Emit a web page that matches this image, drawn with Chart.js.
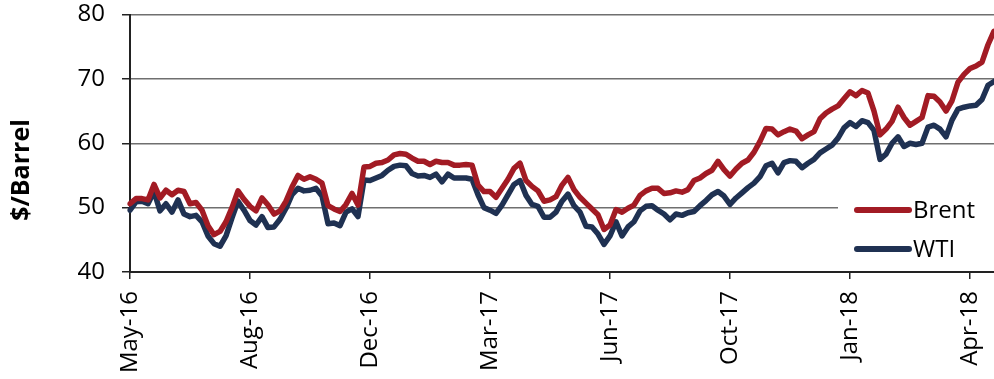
<!DOCTYPE html>
<html>
<head>
<meta charset="utf-8">
<script src="https://cdn.jsdelivr.net/npm/chart.js@4/dist/chart.umd.min.js"></script>
<style>
  html, body { margin: 0; padding: 0; background: #fff; }
  #wrap { width: 994px; height: 379px; position: relative; }
</style>
</head>
<body>
<div id="wrap"><canvas id="chart"></canvas></div>
<script>
// Spot prices, $/barrel, sampled at regular trading-day steps (May 2016 - May 2018)
const brent = [
  50.6, 51.4, 51.4, 51.2, 53.6, 51.5, 52.7, 52.0, 52.7, 52.5,
  50.6, 50.8, 49.6, 47.2, 45.8, 46.3, 47.8, 50.0, 52.6, 51.3,
  50.2, 49.5, 51.5, 50.4, 49.0, 49.5, 51.0, 53.2, 55.0, 54.4,
  54.8, 54.4, 53.8, 50.3, 49.8, 49.4, 50.5, 52.2, 50.4, 56.3,
  56.4, 56.9, 57.0, 57.4, 58.2, 58.4, 58.3, 57.7, 57.2, 57.2,
  56.7, 57.2, 57.0, 57.0, 56.6, 56.6, 56.7, 56.6, 53.5, 52.5,
  52.5, 51.6, 53.0, 54.4, 56.1, 56.9, 54.2, 53.3, 52.6, 51.0,
  51.2, 51.7, 53.5, 54.7, 52.8, 51.6, 50.7, 49.8, 48.9, 46.6,
  47.3, 49.7, 49.3, 49.9, 50.4, 51.9, 52.6, 53.0, 53.0, 52.2,
  52.3, 52.6, 52.4, 52.8, 54.2, 54.6, 55.3, 55.8, 57.2, 55.9,
  54.9, 56.0, 56.9, 57.4, 58.6, 60.3, 62.3, 62.2, 61.3, 61.8,
  62.2, 61.9, 60.7, 61.3, 61.8, 63.8, 64.7, 65.3, 65.8, 66.9,
  68.0, 67.4, 68.2, 67.8, 65.0, 61.3, 62.2, 63.4, 65.6, 64.0,
  62.8, 63.4, 64.0, 67.4, 67.3, 66.4, 65.0, 66.6, 69.5, 70.7,
  71.6, 72.0, 72.6, 75.3, 77.4
];
const wti = [
  49.6, 50.9, 51.0, 50.6, 52.5, 49.5, 50.6, 49.3, 51.2, 49.0,
  48.6, 48.8, 47.8, 45.6, 44.4, 44.0, 45.6, 48.4, 51.0, 49.6,
  48.0, 47.3, 48.6, 46.9, 47.0, 48.2, 49.9, 52.0, 53.0, 52.6,
  52.7, 53.0, 51.8, 47.5, 47.6, 47.2, 49.3, 49.8, 48.6, 54.3,
  54.2, 54.6, 55.0, 55.8, 56.4, 56.6, 56.5, 55.3, 54.9, 55.0,
  54.7, 55.2, 54.0, 55.2, 54.6, 54.6, 54.6, 54.4, 52.0, 50.0,
  49.6, 49.1, 50.4, 52.0, 53.6, 54.2, 51.9, 50.5, 50.2, 48.5,
  48.5, 49.3, 51.0, 52.1, 50.3, 49.3, 47.1, 47.0, 45.9, 44.3,
  45.6, 47.8, 45.6, 47.0, 47.8, 49.5, 50.2, 50.3, 49.6, 49.0,
  48.1, 49.0, 48.8, 49.2, 49.4, 50.3, 51.1, 52.0, 52.5, 51.8,
  50.5, 51.5, 52.3, 53.1, 53.8, 54.8, 56.5, 56.9, 55.4, 57.0,
  57.3, 57.2, 56.2, 56.9, 57.5, 58.5, 59.1, 59.7, 60.8, 62.4,
  63.2, 62.6, 63.5, 63.2, 62.0, 57.5, 58.3, 60.0, 61.0, 59.5,
  60.0, 59.8, 60.0, 62.5, 62.8, 62.2, 61.0, 63.6, 65.3, 65.6,
  65.8, 65.9, 66.8, 69.0, 69.6
];

// Axis labels: one date label every 20 samples
const tickLabels = ['May-16', 'Aug-16', 'Dec-16', 'Mar-17', 'Jun-17', 'Oct-17', 'Jan-18', 'Apr-18'];
const tickStep = 20;
const seriesNames = ['Brent', 'WTI'];
const seriesColors = ['#A21B24', '#1F3152'];

const categories = brent.map((_, i) => (i % tickStep === 0 && tickLabels[i / tickStep]) ? tickLabels[i / tickStep] : '');

Chart.defaults.font.family = "'Open Sans', sans-serif";
Chart.defaults.color = '#000';

// Legend drawn inside the plot, lower right, on a white panel
const insetLegend = {
  id: 'insetLegend',
  afterDraw(chart) {
    const ctx = chart.ctx;
    const area = chart.chartArea;
    ctx.save();
    ctx.fillStyle = '#fff';
    ctx.fillRect(area.right - 156, 186, 156, 80);
    ctx.font = "24px 'Open Sans', sans-serif";
    ctx.textBaseline = 'middle';
    ctx.textAlign = 'left';
    chart.data.datasets.forEach((ds, k) => {
      const y = 210 + k * 39;
      ctx.strokeStyle = ds.borderColor;
      ctx.lineWidth = 6;
      ctx.lineCap = 'round';
      ctx.beginPath();
      ctx.moveTo(857, y);
      ctx.lineTo(909, y);
      ctx.stroke();
      ctx.fillStyle = '#000';
      ctx.fillText(ds.label, 913, y + 1);
    });
    ctx.restore();
  }
};

// Rotated value-axis title
const yTitle = {
  id: 'yTitle',
  afterDraw(chart) {
    const ctx = chart.ctx;
    ctx.save();
    ctx.translate(22, 170);
    ctx.rotate(-Math.PI / 2);
    ctx.font = "bold 25px 'Open Sans', sans-serif";
    ctx.fillStyle = '#000';
    ctx.textAlign = 'center';
    ctx.textBaseline = 'middle';
    ctx.fillText('$/Barrel', 0, 0);
    ctx.restore();
  }
};

new Chart(document.getElementById('chart'), {
  type: 'line',
  data: {
    labels: categories,
    datasets: [
      { label: seriesNames[0], data: brent, borderColor: seriesColors[0], backgroundColor: seriesColors[0] },
      { label: seriesNames[1], data: wti, borderColor: seriesColors[1], backgroundColor: seriesColors[1] }
    ]
  },
  options: {
    responsive: true,
    maintainAspectRatio: false,
    animation: false,
    layout: { padding: 0 },
    elements: {
      point: { radius: 0 },
      line: { borderWidth: 5.5, tension: 0, borderJoinStyle: 'round', borderCapStyle: 'round' }
    },
    plugins: {
      legend: { display: false },
      tooltip: { enabled: false },
      title: { display: false }
    },
    scales: {
      x: {
        type: 'category',
        offset: false,
        afterBuildTicks(scale) {
          scale.ticks = scale.ticks.filter(t => t.value % tickStep === 0);
        },
        afterFit(scale) {
          scale.height = 107;
          scale.paddingLeft = 0;
          scale.paddingRight = 0;
        },
        grid: { drawOnChartArea: false, drawTicks: true, tickLength: 7, color: '#222', lineWidth: 1.5 },
        border: { display: true, color: '#222', width: 2 },
        ticks: {
          autoSkip: false,
          maxRotation: 90,
          minRotation: 90,
          padding: 12,
          font: { size: 24 },
          color: '#000'
        }
      },
      y: {
        min: 40,
        max: 80,
        afterFit(scale) {
          scale.width = 130;
          scale.paddingTop = 14.5;
          scale.paddingBottom = 0;
        },
        grid: { color: '#6f6f6f', lineWidth: 1.5, tickLength: 8, tickColor: '#222', tickWidth: 1.5 },
        border: { display: true, color: '#222', width: 2 },
        ticks: { stepSize: 10, padding: 17, font: { size: 24 }, color: '#000' }
      }
    }
  },
  plugins: [insetLegend, yTitle]
});
</script>
</body>
</html>
